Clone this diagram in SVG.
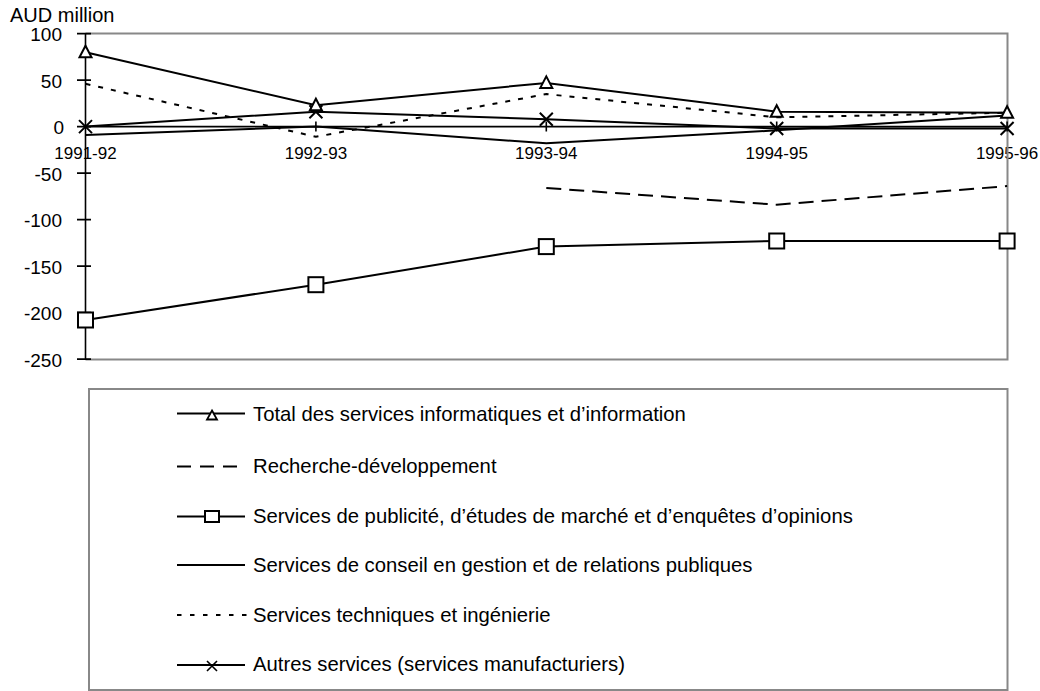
<svg xmlns="http://www.w3.org/2000/svg" xmlns:xlink="http://www.w3.org/1999/xlink" width="1040" height="691" viewBox="0 0 1040 691">
<style>
text{font-family:"Liberation Sans",Arial,sans-serif;fill:#000}
.ylab{font-size:19px;text-anchor:end}
.xlab{font-size:17px;text-anchor:middle}
.leg{font-size:20.3px}
.frame{fill:none;stroke:#888;stroke-width:2}
.axis{stroke:#000;stroke-width:1.6;fill:none}
.s{fill:none;stroke:#000;stroke-width:2;stroke-linejoin:miter}
.dash{stroke-dasharray:15 8}
.dot{stroke-dasharray:5 8}
.mk{fill:#fff;stroke:#000;stroke-width:2}
.mx{fill:none;stroke:#000;stroke-width:2}
</style>
<defs>
<path id="tri" class="mk" d="M0,-6.5 L6,5 L-6,5 Z"/>
<rect id="sq" class="mk" x="-7.5" y="-7.5" width="15" height="15"/>
<path id="xx" class="mx" d="M-6.5,-6.5 L6.5,6.5 M-6.5,6.5 L6.5,-6.5"/>
<path id="ltri" class="mk" d="M0,-4.5 L5,4.5 L-5,4.5 Z" style="stroke-width:1.8"/>
<rect id="lsq" class="mk" x="-7" y="-5.5" width="14" height="11"/>
<path id="lxx" class="mx" d="M-5,-5 L5,5 M-5,5 L5,-5" style="stroke-width:1.6"/>
</defs>
<rect width="1040" height="691" fill="#fff"/>

<g id="axes">
<text x="10" y="22" style="font-size:20px">AUD million</text>
<text class="ylab" x="62" y="41">100</text>
<text class="ylab" x="62" y="87.5">50</text>
<text class="ylab" x="64" y="134">0</text>
<text class="ylab" x="62" y="180.5">-50</text>
<text class="ylab" x="62" y="227">-100</text>
<text class="ylab" x="62" y="273.5">-150</text>
<text class="ylab" x="62" y="320">-200</text>
<text class="ylab" x="62" y="366.5">-250</text>
<text class="xlab" x="85.5" y="159">1991-92</text>
<text class="xlab" x="315.9" y="159">1992-93</text>
<text class="xlab" x="546.3" y="159">1993-94</text>
<text class="xlab" x="776.7" y="159">1994-95</text>
<text class="xlab" x="1007.1" y="159">1995-96</text>
<path class="frame" d="M85.5,33.6 H1007.5 V359.5 H85.5"/>
<path class="axis" d="M85.5,33.6 V359.5 M77,33.6 H91 M77,80.1 H91 M77,126.6 H91 M77,173.1 H91 M77,219.6 H91 M77,266.1 H91 M77,312.6 H91 M77,359.1 H91"/>
<path class="axis" d="M85.5,126.6 H1007.5 M315.9,121.6 V131.6 M546.3,121.6 V131.6 M776.7,121.6 V131.6 M1007.1,121.6 V131.6"/>
</g>

<g id="connectors">
<g id="s-conseil"><polyline class="s" points="85.5,135 315.9,126.6 546.3,143.3 776.7,130.3 1007.1,115.4"/></g>
<g id="s-techniques"><polyline class="s dot" points="85.5,83.8 315.9,136.8 546.3,94.1 776.7,117.3 1007.1,112.7"/></g>
<g id="s-rd"><polyline class="s dash" points="546.3,188 776.7,204.7 1007.1,186.1"/></g>
<g id="s-autres"><polyline class="s" points="85.5,126.6 315.9,111.7 546.3,119.2 776.7,128.5 1007.1,128.5"/></g>
<g id="s-total"><polyline class="s" points="85.5,52.2 315.9,105.2 546.3,82.9 776.7,111.7 1007.1,112.7"/></g>
<g id="s-pub"><polyline class="s" points="85.5,320 315.9,284.7 546.3,246.6 776.7,241 1007.1,241"/></g>
</g>

<g id="markers">
<g id="m-autres">
<use xlink:href="#xx" href="#xx" x="85.5" y="126.6"/>
<use xlink:href="#xx" href="#xx" x="315.9" y="111.7"/>
<use xlink:href="#xx" href="#xx" x="546.3" y="119.2"/>
<use xlink:href="#xx" href="#xx" x="776.7" y="128.5"/>
<use xlink:href="#xx" href="#xx" x="1007.1" y="128.5"/>
</g>
<g id="m-total">
<use xlink:href="#tri" href="#tri" x="85.5" y="52.2"/>
<use xlink:href="#tri" href="#tri" x="315.9" y="105.2"/>
<use xlink:href="#tri" href="#tri" x="546.3" y="82.9"/>
<use xlink:href="#tri" href="#tri" x="776.7" y="111.7"/>
<use xlink:href="#tri" href="#tri" x="1007.1" y="112.7"/>
</g>
<g id="m-pub">
<use xlink:href="#sq" href="#sq" x="85.5" y="320"/>
<use xlink:href="#sq" href="#sq" x="315.9" y="284.7"/>
<use xlink:href="#sq" href="#sq" x="546.3" y="246.6"/>
<use xlink:href="#sq" href="#sq" x="776.7" y="241"/>
<use xlink:href="#sq" href="#sq" x="1007.1" y="241"/>
</g>
</g>

<g id="legend">
<rect class="frame" x="89" y="389" width="918.5" height="301"/>
<g id="leg-total">
<line class="s" x1="177" y1="413.5" x2="245" y2="413.5"/>
<use xlink:href="#ltri" href="#ltri" x="212" y="415"/>
<text class="leg" x="253" y="420.5">Total des services informatiques et d’information</text>
</g>
<g id="leg-rd">
<line class="s dash" x1="177" y1="466.5" x2="245" y2="466.5" style="stroke-dasharray:14 9"/>
<text class="leg" x="253" y="472.5">Recherche-développement</text>
</g>
<g id="leg-pub">
<line class="s" x1="177" y1="516.5" x2="245" y2="516.5"/>
<use xlink:href="#lsq" href="#lsq" x="212" y="516.5"/>
<text class="leg" x="253" y="522.5">Services de publicité, d’études de marché et d’enquêtes d’opinions</text>
</g>
<g id="leg-conseil">
<line class="s" x1="177" y1="565" x2="245" y2="565"/>
<text class="leg" x="253" y="571.5">Services de conseil en gestion et de relations publiques</text>
</g>
<g id="leg-techniques">
<line class="s dot" x1="177" y1="615" x2="252" y2="615" style="stroke-dasharray:4.5 8.5"/>
<text class="leg" x="253" y="621.5">Services techniques et ingénierie</text>
</g>
<g id="leg-autres">
<line class="s" x1="177" y1="665" x2="245" y2="665"/>
<use xlink:href="#lxx" href="#lxx" x="212" y="666"/>
<text class="leg" x="253" y="670.5">Autres services (services manufacturiers)</text>
</g>
</g>
</svg>
